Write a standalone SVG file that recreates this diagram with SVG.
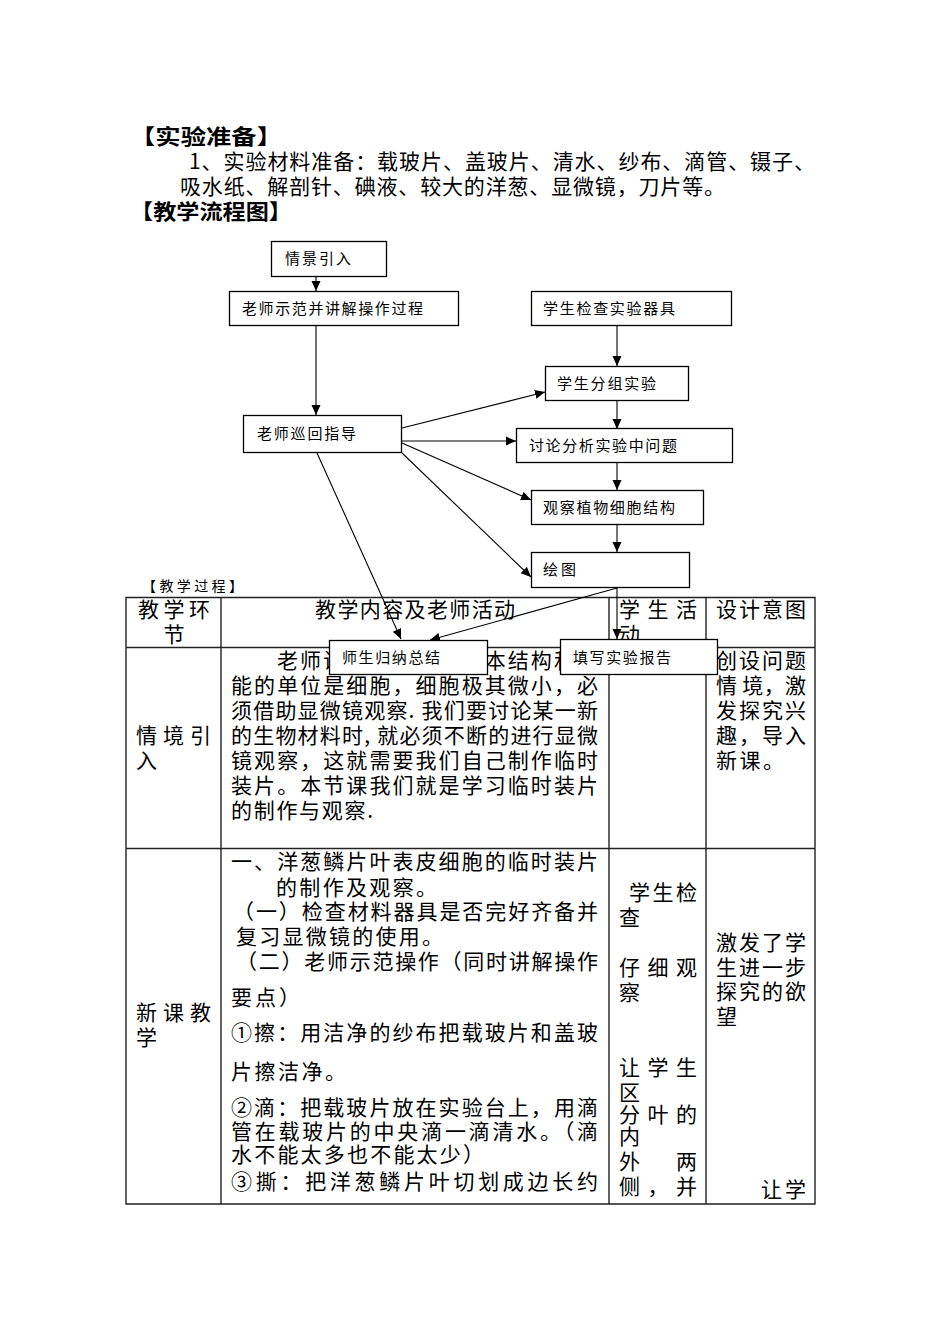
<svg xmlns="http://www.w3.org/2000/svg" width="950" height="1344" viewBox="0 0 950 1344">
<style>
text{font-family:"Noto Sans CJK SC","Noto Sans",sans-serif;fill:#000}
.h{font-size:21px;font-weight:bold}
.p{font-size:21px}
.t{font-size:21px}
.n{font-size:15px}
.s{font-size:14px}
.box{fill:#fff;stroke:#000;stroke-width:1.3}
.grid{stroke:#222;stroke-width:1.4;fill:none}
.c{stroke:#000;stroke-width:1.1;fill:none}
</style>
<defs>
<marker id="ah" viewBox="0 0 10 10" refX="10" refY="5" markerWidth="10" markerHeight="10" markerUnits="userSpaceOnUse" orient="auto">
<path d="M0,0.5 L10,5 L0,9.5 Z" fill="#000"/>
</marker>
</defs>
<rect width="950" height="1344" fill="#fff"/>

<!-- header text -->
<text class="h" x="130" y="144" textLength="152" lengthAdjust="spacingAndGlyphs">【实验准备】</text>
<text class="p" x="189" y="169" textLength="626" lengthAdjust="spacing">1、实验材料准备：载玻片、盖玻片、清水、纱布、滴管、镊子、</text>
<text class="p" x="180" y="194" textLength="545" lengthAdjust="spacing">吸水纸、解剖针、碘液、较大的洋葱、显微镜，刀片等。</text>
<text class="h" x="130" y="219" textLength="162" lengthAdjust="spacingAndGlyphs">【教学流程图】</text>
<text class="s" x="142" y="591" textLength="101" lengthAdjust="spacing">【教学过程】</text>

<!-- table -->
<g id="table">
<text class="t" x="138" y="617" textLength="72" lengthAdjust="spacing">教学环</text>
<text class="t" x="174" y="642" text-anchor="middle">节</text>
<text class="t" x="315" y="617" textLength="200" lengthAdjust="spacing">教学内容及老师活动</text>
<text class="t" x="619" y="617" textLength="78" lengthAdjust="spacing">学 生 活</text>
<text class="t" x="619" y="642">动</text>
<text class="t" x="716" y="617" textLength="90" lengthAdjust="spacing">设计意图</text>

<text class="t" x="136" y="743" textLength="75" lengthAdjust="spacing">情 境 引</text>
<text class="t" x="136" y="768">入</text>
<text class="t" x="277" y="668" textLength="321" lengthAdjust="spacing">老师讲解：生物体基本结构和功</text>
<text class="t" x="231" y="693" textLength="367" lengthAdjust="spacing">能的单位是细胞，细胞极其微小，必</text>
<text class="t" x="231" y="718" textLength="367" lengthAdjust="spacing">须借助显微镜观察. 我们要讨论某一新</text>
<text class="t" x="231" y="743" textLength="367" lengthAdjust="spacing">的生物材料时, 就必须不断的进行显微</text>
<text class="t" x="231" y="768" textLength="367" lengthAdjust="spacing">镜观察，这就需要我们自己制作临时</text>
<text class="t" x="231" y="793" textLength="367" lengthAdjust="spacing">装片。本节课我们就是学习临时装片</text>
<text class="t" x="231" y="818" textLength="142" lengthAdjust="spacing">的制作与观察.</text>
<text class="t" x="716" y="668" textLength="90" lengthAdjust="spacing">创设问题</text>
<text class="t" x="716" y="693" textLength="90" lengthAdjust="spacing">情 境，激</text>
<text class="t" x="716" y="718" textLength="90" lengthAdjust="spacing">发探究兴</text>
<text class="t" x="716" y="743" textLength="90" lengthAdjust="spacing">趣，导入</text>
<text class="t" x="716" y="768" textLength="68" lengthAdjust="spacing">新课。</text>

<text class="t" x="136" y="1020" textLength="75" lengthAdjust="spacing">新 课 教</text>
<text class="t" x="136" y="1045">学</text>
<text class="t" x="231" y="869" textLength="367" lengthAdjust="spacing">一、洋葱鳞片叶表皮细胞的临时装片</text>
<text class="t" x="276" y="895" textLength="161" lengthAdjust="spacing">的制作及观察。</text>
<text class="t" x="233" y="919" textLength="365" lengthAdjust="spacing">（一）检查材料器具是否完好齐备并</text>
<text class="t" x="236" y="944" textLength="207" lengthAdjust="spacing">复习显微镜的使用。</text>
<text class="t" x="236" y="969" textLength="362" lengthAdjust="spacing">（二）老师示范操作（同时讲解操作</text>
<text class="t" x="231" y="1005" textLength="69" lengthAdjust="spacing">要点）</text>
<text class="t" x="231" y="1040" textLength="367" lengthAdjust="spacing">①擦：用洁净的纱布把载玻片和盖玻</text>
<text class="t" x="231" y="1079" textLength="115" lengthAdjust="spacing">片擦洁净。</text>
<text class="t" x="231" y="1115" textLength="367" lengthAdjust="spacing">②滴：把载玻片放在实验台上，用滴</text>
<text class="t" x="231" y="1139" textLength="367" lengthAdjust="spacing">管在载玻片的中央滴一滴清水。（滴</text>
<text class="t" x="231" y="1162" textLength="253" lengthAdjust="spacing">水不能太多也不能太少）</text>
<text class="t" x="231" y="1189" textLength="367" lengthAdjust="spacing">③撕：把洋葱鳞片叶切划成边长约</text>

<text class="t" x="629" y="900" textLength="68" lengthAdjust="spacing">学生检</text>
<text class="t" x="619" y="925">查</text>
<text class="t" x="619" y="975" textLength="78" lengthAdjust="spacing">仔 细 观</text>
<text class="t" x="619" y="1000">察</text>
<text class="t" x="619" y="1075" textLength="78" lengthAdjust="spacing">让 学 生</text>
<text class="t" x="619" y="1100">区</text>
<text class="t" x="619" y="1122" textLength="78" lengthAdjust="spacing">分 叶 的</text>
<text class="t" x="619" y="1144">内</text>
<text class="t" x="619" y="1169" textLength="78" lengthAdjust="spacing">外　两</text>
<text class="t" x="619" y="1194" textLength="78" lengthAdjust="spacing">侧，并</text>

<text class="t" x="716" y="950" textLength="90" lengthAdjust="spacing">激发了学</text>
<text class="t" x="716" y="975" textLength="90" lengthAdjust="spacing">生进一步</text>
<text class="t" x="716" y="999" textLength="90" lengthAdjust="spacing">探究的欲</text>
<text class="t" x="716" y="1024">望</text>
<text class="t" x="761" y="1197" textLength="45" lengthAdjust="spacing">让学</text>

<path class="grid" d="M126,597.5 H815 V1204 H126 Z M126,647.5 H815 M126,848.5 H815 M221,597.5 V1204 M609,597.5 V1204 M706,597.5 V1204"/>
</g>

<!-- connectors -->
<g id="connectors">
<line class="c" x1="316" y1="277" x2="316" y2="291" marker-end="url(#ah)"/>
<line class="c" x1="316" y1="326" x2="316" y2="415" marker-end="url(#ah)"/>
<line class="c" x1="617" y1="326" x2="617" y2="366" marker-end="url(#ah)"/>
<line class="c" x1="617" y1="401" x2="617" y2="429" marker-end="url(#ah)"/>
<line class="c" x1="617" y1="463" x2="617" y2="490" marker-end="url(#ah)"/>
<line class="c" x1="617" y1="525" x2="617" y2="552" marker-end="url(#ah)"/>
<line class="c" x1="617" y1="588" x2="617" y2="639" marker-end="url(#ah)"/>
<line class="c" x1="402" y1="428" x2="545" y2="392" marker-end="url(#ah)"/>
<line class="c" x1="402" y1="441" x2="516" y2="441" marker-end="url(#ah)"/>
<line class="c" x1="402" y1="443" x2="531" y2="500" marker-end="url(#ah)"/>
<line class="c" x1="402" y1="453" x2="531" y2="577" marker-end="url(#ah)"/>
<line class="c" x1="317" y1="453" x2="401" y2="639" marker-end="url(#ah)"/>
<line class="c" x1="617" y1="588" x2="430" y2="640" marker-end="url(#ah)"/>
</g>

<!-- nodes -->
<g id="n-qingjing"><rect class="box" x="271.5" y="241.5" width="115" height="35"/><text class="n" x="285" y="264" textLength="66" lengthAdjust="spacing">情景引入</text></g>
<g id="n-shifan"><rect class="box" x="229.5" y="291.5" width="229" height="34"/><text class="n" x="242" y="314" textLength="181" lengthAdjust="spacing">老师示范并讲解操作过程</text></g>
<g id="n-jiancha"><rect class="box" x="531.5" y="291.5" width="200" height="34"/><text class="n" x="543" y="314" textLength="132" lengthAdjust="spacing">学生检查实验器具</text></g>
<g id="n-fenzu"><rect class="box" x="545.5" y="366.5" width="143" height="34"/><text class="n" x="557" y="389" textLength="99" lengthAdjust="spacing">学生分组实验</text></g>
<g id="n-xunhui"><rect class="box" x="243.5" y="415.5" width="158" height="37"/><text class="n" x="257" y="439" textLength="99" lengthAdjust="spacing">老师巡回指导</text></g>
<g id="n-taolun"><rect class="box" x="516.5" y="428.5" width="216" height="34"/><text class="n" x="529" y="451" textLength="148" lengthAdjust="spacing">讨论分析实验中问题</text></g>
<g id="n-guancha"><rect class="box" x="531.5" y="490.5" width="172" height="34"/><text class="n" x="543" y="513" textLength="132" lengthAdjust="spacing">观察植物细胞结构</text></g>
<g id="n-huitu"><rect class="box" x="531.5" y="552.5" width="158" height="35"/><text class="n" x="543" y="575" textLength="33" lengthAdjust="spacing">绘图</text></g>
<g id="n-zongjie"><rect class="box" x="329.5" y="640.5" width="158" height="34"/><text class="n" x="342" y="663" textLength="98" lengthAdjust="spacing">师生归纳总结</text></g>
<g id="n-baogao"><rect class="box" x="560.5" y="639.5" width="157" height="35"/><text class="n" x="573" y="663" textLength="98" lengthAdjust="spacing">填写实验报告</text></g>
</svg>
